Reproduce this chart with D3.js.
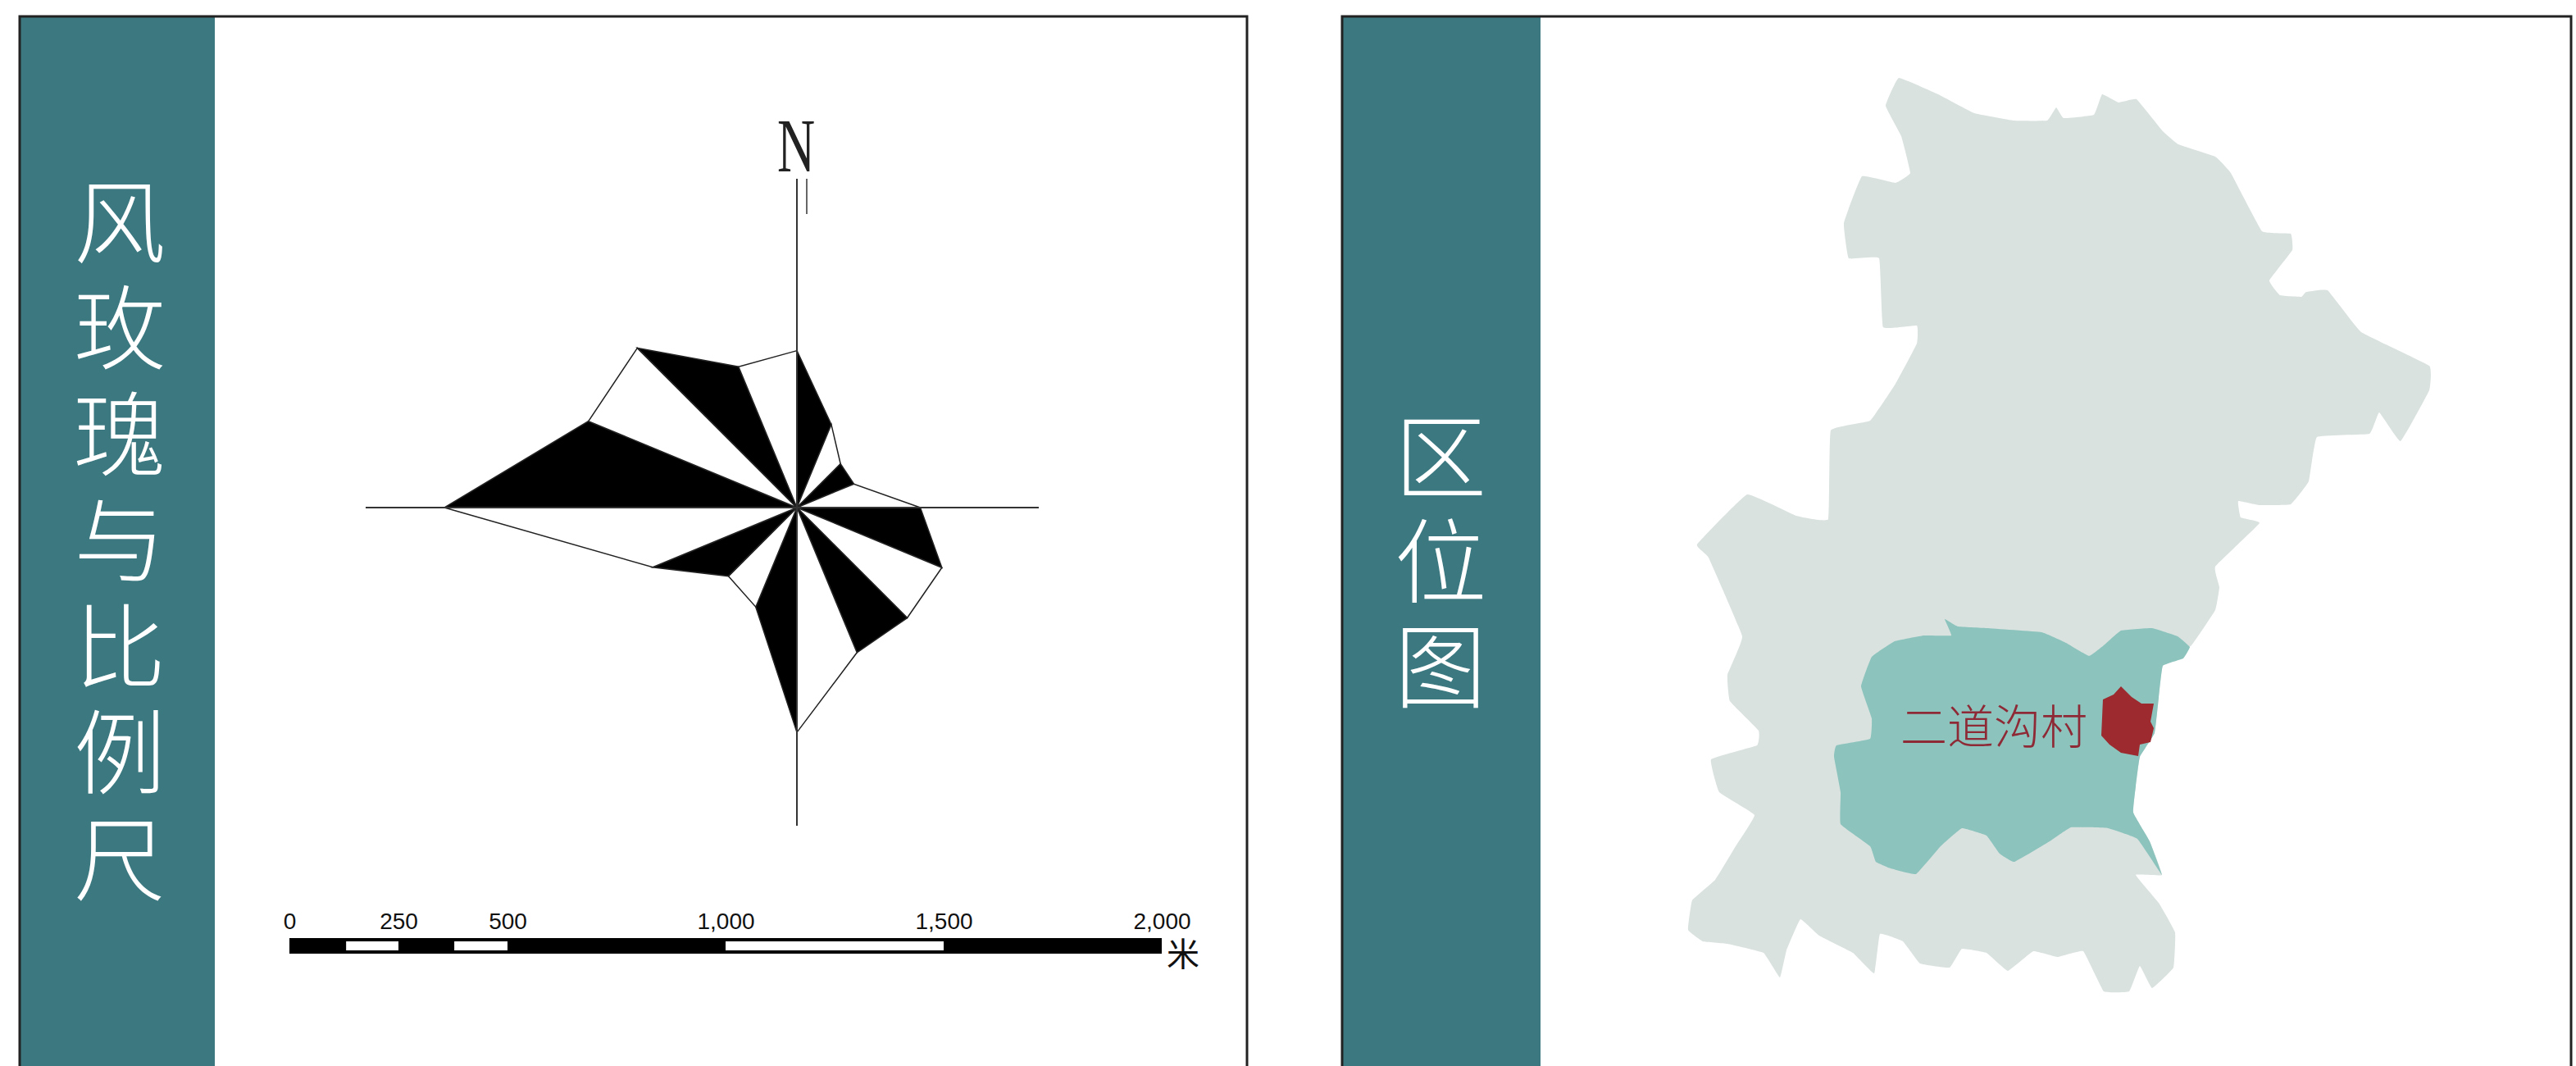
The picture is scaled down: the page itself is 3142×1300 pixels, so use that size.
<!DOCTYPE html>
<html>
<head>
<meta charset="utf-8">
<script src="https://cdn.jsdelivr.net/npm/d3@7"></script>
<style>
body { margin: 0; background: #fff; }
svg { display: block; }
text { font-family: "Noto Sans CJK SC", sans-serif; }
</style>
</head>
<body>
<script>
// wind rose: 16 directions clockwise from north, frequency
const directions = ['N','NNE','NE','ENE','E','ESE','SE','SSE','S','SSW','SW','WSW','W','WNW','NW','NNW'];
const frequency = [8.9, 5.1, 3.5, 3.5, 7, 8.9, 8.85, 8.9, 12.75, 6.1, 5.5, 8.85, 20, 12.8, 12.8, 8.65];

// scale bar
const barTicks = [0, 250, 500, 1000, 1500, 2000];
const barStops = [0, 130, 250, 378, 500, 1000, 1500, 2000];

const titleLeft = '风玫瑰与比例尺';
const titleRight = '区位图';

// map outlines, in map units
const cityOutline = [[316,35],[364,55],[408,78],[456,87],[497,87],[508,71],[517,84],[554,80],[564,55],[584,65],[606,61],[638,100],[657,116],[702,131],[721,151],[759,222],[794,225],[796,245],[768,282],[781,300],[807,302],[813,296],[839,294],[880,345],[963,386],[963,416],[928,478],[902,443],[890,469],[826,473],[816,527],[794,555],[756,556],[730,551],[733,571],[756,578],[702,631],[707,656],[702,684],[673,727],[638,752],[633,791],[628,834],[610,863],[605,899],[602,931],[622,966],[637,1007],[605,1007],[633,1041],[653,1077],[651,1120],[625,1145],[610,1118],[597,1149],[566,1149],[541,1100],[510,1107],[480,1100],[449,1124],[423,1102],[393,1097],[378,1120],[342,1115],[321,1088],[293,1079],[286,1127],[260,1102],[219,1081],[196,1061],[179,1099],[171,1132],[151,1102],[107,1091],[77,1088],[59,1074],[64,1038],[92,1013],[117,972],[140,934],[97,906],[87,866],[143,849],[145,831],[110,795],[107,763],[125,716],[84,620],[70,604],[131,543],[191,569],[230,573],[233,465],[281,453],[312,408],[338,359],[338,337],[297,339],[292,255],[255,255],[249,212],[271,155],[312,163],[330,151],[319,106],[300,69]];
const townOutline = [[372,695],[388,704],[423,706],[490,711],[520,724],[548,740],[566,727],[587,709],[625,706],[656,716],[671,729],[663,743],[638,752],[633,791],[628,834],[610,863],[605,899],[602,931],[622,966],[637,1007],[607,963],[571,950],[526,949],[500,966],[457,991],[439,981],[423,959],[393,950],[367,972],[337,1006],[306,999],[288,991],[281,972],[245,945],[245,906],[237,863],[240,849],[281,841],[283,816],[270,777],[283,741],[311,722],[347,715],[380,715]];
const villageOutline = [[587,777],[600,790],[612,798],[627,798],[623,820],[627,828],[623,845],[610,848],[608,862],[587,858],[573,848],[563,837],[565,793],[578,787]];

const w = 3142, h = 1300;
const teal = '#3b7880';

const svg = d3.select('body').append('svg')
    .attr('width', w)
    .attr('height', h);

// panels
const panels = [
    {x0: 24, x1: 262, x2: 1521},
    {x0: 1637, x1: 1879, x2: 3136}
];
panels.forEach((p) => {
    svg.append('rect').attr('x', p.x0).attr('y', 20)
        .attr('width', p.x1 - p.x0).attr('height', h - 20).attr('fill', teal);
    svg.append('path')
        .attr('d', `M${p.x0},${h}V20H${p.x2}V${h}`)
        .attr('fill', 'none').attr('stroke', '#222').attr('stroke-width', 3);
});

// side titles, one vertical text each
function sideTitle(title, x, y0, spacing) {
    svg.append('text')
        .attr('x', x)
        .attr('y', y0)
        .style('writing-mode', 'vertical-rl')
        .style('text-orientation', 'upright')
        .style('letter-spacing', spacing + 'px')
        .attr('font-size', 112)
        .attr('font-weight', 300)
        .attr('fill', '#fff')
        .text(title);
}
sideTitle(titleLeft, 146, 214, 17.5);
sideTitle(titleRight, 1757, 500, 16);

// wind rose
const cx = 972, cy = 619;
const rScale = d3.scaleLinear().domain([0, 20]).range([0, 430]);
const angle = d3.scalePoint().domain(directions).range([0, 2 * Math.PI * 15 / 16]);
const rose = svg.append('g').attr('transform', `translate(${cx},${cy})`);
const pt = (i) => d3.pointRadial(angle(directions[i % 16]), rScale(frequency[i % 16]));

rose.selectAll('path.sector')
    .data(directions)
    .enter()
    .append('path')
    .attr('class', 'sector')
    .attr('d', (d, i) => d3.line()([[0, 0], pt(i), pt(i + 1)]) + 'Z')
    .attr('fill', (d, i) => i % 2 === 0 ? '#000' : '#fff')
    .attr('stroke', '#222')
    .attr('stroke-width', 1.5);

const compass = [[446 - cx, 0, 1267 - cx, 0], [0, 218 - cy, 0, 1007 - cy], [12, 218 - cy, 12, 261 - cy]];
rose.selectAll('line')
    .data(compass)
    .enter()
    .append('line')
    .attr('x1', (d) => d[0]).attr('y1', (d) => d[1])
    .attr('x2', (d) => d[2]).attr('y2', (d) => d[3])
    .attr('stroke', '#333')
    .attr('stroke-width', (d, i) => i === 2 ? 1.5 : 2);

svg.append('text')
    .attr('transform', 'translate(971,209) scale(0.68,1)')
    .attr('text-anchor', 'middle')
    .style('font-family', '"Liberation Serif", serif')
    .attr('font-size', 94)
    .attr('fill', '#222')
    .text('N');

// scale bar
const barX = d3.scaleLinear().domain([0, 2000]).range([353, 1417]);
const barTop = 1144, barH = 19;
svg.append('rect').attr('x', barX(0)).attr('y', barTop)
    .attr('width', barX(2000) - barX(0)).attr('height', barH).attr('fill', '#000');
svg.selectAll('rect.seg')
    .data(d3.pairs(barStops).filter((d, i) => i % 2 === 1))
    .enter()
    .append('rect')
    .attr('class', 'seg')
    .attr('x', (d) => barX(d[0]))
    .attr('y', barTop + 4)
    .attr('width', (d) => barX(d[1]) - barX(d[0]))
    .attr('height', barH - 8)
    .attr('fill', '#fff');

const barAxis = d3.axisTop(barX)
    .tickValues(barTicks)
    .tickFormat(d3.format(','))
    .tickSize(0)
    .tickPadding(0);
svg.append('g')
    .attr('transform', 'translate(0,1133)')
    .call(barAxis)
    .call((g) => g.select('.domain').remove())
    .call((g) => g.selectAll('text')
        .style('font-family', '"Liberation Sans", sans-serif')
        .attr('font-size', 28)
        .attr('fill', '#111'));

svg.append('text')
    .attr('x', 1443).attr('y', 1161)
    .attr('text-anchor', 'middle')
    .attr('dominant-baseline', 'central')
    .attr('font-size', 40)
    .attr('fill', '#111')
    .text('米');

// location map
const mapX = d3.scaleLinear().domain([0, 1000]).range([2000, 3000]);
const mapY = d3.scaleLinear().domain([0, 1000]).range([60, 1060]);
const curved = d3.line().x((d) => mapX(d[0])).y((d) => mapY(d[1]))
    .curve(d3.curveCardinalClosed.tension(0.75));
const straight = d3.line().x((d) => mapX(d[0])).y((d) => mapY(d[1])).curve(d3.curveLinearClosed);
const regions = [
    {pts: cityOutline, fill: '#d9e2df', line: curved},
    {pts: townOutline, fill: '#8cc3bd', line: curved},
    {pts: villageOutline, fill: '#9c2a2e', line: straight}
];
svg.selectAll('path.region')
    .data(regions)
    .enter()
    .append('path')
    .attr('class', 'region')
    .attr('d', (d) => d.line(d.pts))
    .attr('fill', (d) => d.fill);

svg.append('text')
    .attr('x', 2432).attr('y', 882)
    .attr('text-anchor', 'middle')
    .attr('dominant-baseline', 'central')
    .attr('font-size', 57)
    .attr('font-weight', 300)
    .attr('fill', '#8e2a35')
    .text('二道沟村');
</script>
</body>
</html>
